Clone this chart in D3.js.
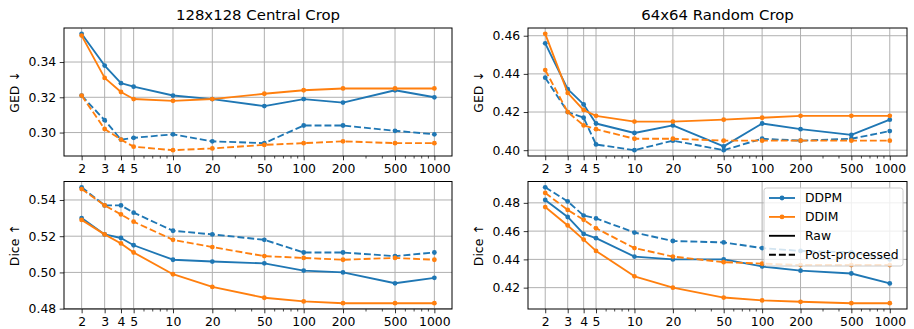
<!DOCTYPE html>
<html>
<head>
<meta charset="utf-8">
<script src="https://cdn.jsdelivr.net/npm/d3@7"></script>
<style>
  body { margin: 0; background: #fff; }
  svg { display: block; font-family: "DejaVu Sans", sans-serif; }
</style>
</head>
<body>
<svg id="chart"></svg>
<script>
// Sampling steps on the log x axis
const steps = [2, 3, 4, 5, 10, 20, 50, 100, 200, 500, 1000];
const minorSteps = [6, 7, 8, 9, 30, 40, 60, 70, 80, 90, 300, 400, 600, 700, 800, 900];

// 128x128 central crop
const gedCentralDdpmRaw  = [0.356, 0.338, 0.328, 0.326, 0.321, 0.319, 0.315, 0.319, 0.317, 0.324, 0.320];
const gedCentralDdimRaw  = [0.355, 0.331, 0.323, 0.319, 0.318, 0.319, 0.322, 0.324, 0.325, 0.325, 0.325];
const gedCentralDdpmPost = [0.321, 0.307, 0.296, 0.297, 0.299, 0.295, 0.294, 0.304, 0.304, 0.301, 0.299];
const gedCentralDdimPost = [0.321, 0.302, 0.296, 0.292, 0.290, 0.291, 0.293, 0.294, 0.295, 0.294, 0.294];
const diceCentralDdpmRaw  = [0.530, 0.521, 0.519, 0.515, 0.507, 0.506, 0.505, 0.501, 0.500, 0.494, 0.497];
const diceCentralDdimRaw  = [0.529, 0.521, 0.516, 0.511, 0.499, 0.492, 0.486, 0.484, 0.483, 0.483, 0.483];
const diceCentralDdpmPost = [0.547, 0.537, 0.537, 0.533, 0.523, 0.521, 0.518, 0.511, 0.511, 0.509, 0.511];
const diceCentralDdimPost = [0.546, 0.537, 0.532, 0.528, 0.518, 0.514, 0.509, 0.508, 0.507, 0.508, 0.507];

// 64x64 random crop
const gedRandomDdpmRaw  = [0.456, 0.432, 0.424, 0.414, 0.409, 0.413, 0.402, 0.414, 0.411, 0.408, 0.416];
const gedRandomDdimRaw  = [0.461, 0.430, 0.421, 0.418, 0.415, 0.415, 0.416, 0.417, 0.418, 0.418, 0.418];
const gedRandomDdpmPost = [0.438, 0.420, 0.417, 0.403, 0.400, 0.405, 0.400, 0.406, 0.405, 0.406, 0.410];
const gedRandomDdimPost = [0.442, 0.420, 0.413, 0.411, 0.406, 0.406, 0.405, 0.405, 0.405, 0.405, 0.405];
const diceRandomDdpmRaw  = [0.482, 0.470, 0.458, 0.455, 0.442, 0.440, 0.440, 0.435, 0.432, 0.430, 0.423];
const diceRandomDdimRaw  = [0.477, 0.464, 0.454, 0.446, 0.428, 0.420, 0.413, 0.411, 0.410, 0.409, 0.409];
const diceRandomDdpmPost = [0.491, 0.481, 0.471, 0.469, 0.459, 0.453, 0.452, 0.448, 0.446, 0.445, 0.440];
const diceRandomDdimPost = [0.487, 0.475, 0.468, 0.462, 0.448, 0.442, 0.438, 0.437, 0.436, 0.436, 0.436];

const titles = ["128x128 Central Crop", "64x64 Random Crop"];
const yLabels = ["GED \u2193", "Dice \u2191"];
const yTicksList = [
  [0.30, 0.32, 0.34],
  [0.40, 0.42, 0.44, 0.46],
  [0.48, 0.50, 0.52, 0.54],
  [0.42, 0.44, 0.46, 0.48]
];
const legendLabels = ["DDPM", "DDIM", "Raw", "Post-processed"];

const width = 914, height = 329;
const blue = "#1f77b4", orange = "#ff7f0e";
const dash = "6.9 3";
const tickFont = 12.4;

const svg = d3.select("#chart").attr("width", width).attr("height", height);

// panel boxes
const cols = [{ left: 64, right: 452 }, { left: 528, right: 907 }];
const rows = [{ top: 28, bottom: 156 }, { top: 181.5, bottom: 309 }];

const panels = [
  { row: 0, col: 0, series: [gedCentralDdpmRaw, gedCentralDdpmPost, gedCentralDdimRaw, gedCentralDdimPost] },
  { row: 0, col: 1, series: [gedRandomDdpmRaw, gedRandomDdpmPost, gedRandomDdimRaw, gedRandomDdimPost] },
  { row: 1, col: 0, series: [diceCentralDdpmRaw, diceCentralDdpmPost, diceCentralDdimRaw, diceCentralDdimPost] },
  { row: 1, col: 1, series: [diceRandomDdpmRaw, diceRandomDdpmPost, diceRandomDdimRaw, diceRandomDdimPost] }
];
const styles = [
  { color: blue, dash: null },
  { color: blue, dash: dash },
  { color: orange, dash: null },
  { color: orange, dash: dash }
];

// log x domain with 5% margins like matplotlib
const lx0 = Math.log10(steps[0]), lx1 = Math.log10(steps[steps.length - 1]);
const mx = (lx1 - lx0) * 0.05;
const xDomain = [Math.pow(10, lx0 - mx), Math.pow(10, lx1 + mx)];

panels.forEach((p, pi) => {
  const c = cols[p.col], r = rows[p.row];
  const g = svg.append("g");

  const x = d3.scaleLog().domain(xDomain).range([c.left, c.right]);
  const all = p.series.flat();
  const lo = d3.min(all), hi = d3.max(all), pad = (hi - lo) * 0.05;
  const y = d3.scaleLinear().domain([lo - pad, hi + pad]).range([r.bottom, r.top]);

  // grid
  g.selectAll(".gx").data(steps).enter().append("line")
    .attr("x1", d => x(d)).attr("x2", d => x(d))
    .attr("y1", r.top).attr("y2", r.bottom)
    .attr("stroke", "#b0b0b0").attr("stroke-width", 1);
  g.selectAll(".gy").data(yTicksList[pi]).enter().append("line")
    .attr("x1", c.left).attr("x2", c.right)
    .attr("y1", d => y(d)).attr("y2", d => y(d))
    .attr("stroke", "#b0b0b0").attr("stroke-width", 1);

  // series
  const line = d3.line().x((d, i) => x(steps[i])).y(d => y(d));
  p.series.forEach((vals, si) => {
    const st = styles[si];
    g.append("path").datum(vals)
      .attr("d", line)
      .attr("fill", "none")
      .attr("stroke", st.color)
      .attr("stroke-width", 1.86)
      .attr("stroke-linejoin", "round")
      .attr("stroke-dasharray", st.dash);
    g.selectAll(null).data(vals).enter().append("circle")
      .attr("cx", (d, i) => x(steps[i]))
      .attr("cy", d => y(d))
      .attr("r", 2.4)
      .attr("fill", st.color);
  });

  // frame
  g.append("rect")
    .attr("x", c.left).attr("y", r.top)
    .attr("width", c.right - c.left).attr("height", r.bottom - r.top)
    .attr("fill", "none").attr("stroke", "#000").attr("stroke-width", 1);

  // x axis ticks
  const xAxis = g.append("g").attr("transform", `translate(0,${r.bottom})`)
    .call(d3.axisBottom(x).tickValues(steps).tickFormat(d3.format("d"))
      .tickSizeInner(4.3).tickSizeOuter(0).tickPadding(3.5));
  xAxis.select(".domain").remove();
  xAxis.selectAll("text").attr("font-size", tickFont).attr("font-family", "DejaVu Sans").attr("fill", "#000");
  xAxis.selectAll("line").attr("stroke", "#000").attr("stroke-width", 0.8);
  g.selectAll(".mt").data(minorSteps).enter().append("line")
    .attr("x1", d => x(d)).attr("x2", d => x(d))
    .attr("y1", r.bottom).attr("y2", r.bottom + 2.5)
    .attr("stroke", "#000").attr("stroke-width", 0.7);

  // y axis ticks
  const yAxis = g.append("g").attr("transform", `translate(${c.left},0)`)
    .call(d3.axisLeft(y).tickValues(yTicksList[pi]).tickFormat(d3.format(".2f"))
      .tickSizeInner(4.3).tickSizeOuter(0).tickPadding(3.5));
  yAxis.select(".domain").remove();
  yAxis.selectAll("text").attr("font-size", tickFont).attr("font-family", "DejaVu Sans").attr("fill", "#000");
  yAxis.selectAll("line").attr("stroke", "#000").attr("stroke-width", 0.8);

  // y label
  const ly = (r.top + r.bottom) / 2;
  const lxPos = c.left - 49;
  g.append("text")
    .attr("transform", `translate(${lxPos},${ly}) rotate(-90)`)
    .attr("text-anchor", "middle")
    .attr("dy", "0.35em")
    .attr("font-size", tickFont)
    .text(yLabels[p.row]);

  // title
  if (p.row === 0) {
    g.append("text")
      .attr("x", (c.left + c.right) / 2).attr("y", 20)
      .attr("text-anchor", "middle")
      .attr("font-size", 14.9)
      .text(titles[p.col]);
  }

  // legend in the bottom-right panel
  if (pi === 3) {
    const lg = g.append("g");
    const box = { right: c.right - 4, top: r.top + 6.5, w: 139, h: 78 };
    lg.append("rect")
      .attr("x", box.right - box.w).attr("y", box.top)
      .attr("width", box.w).attr("height", box.h)
      .attr("rx", 2.5)
      .attr("fill", "#fff").attr("fill-opacity", 0.8)
      .attr("stroke", "#cccccc").attr("stroke-width", 1);
    const items = [
      { color: blue, dash: null, marker: true },
      { color: orange, dash: null, marker: true },
      { color: "#000", dash: null, marker: false },
      { color: "#000", dash: dash, marker: false }
    ];
    const hx0 = box.right - box.w + 5, hx1 = hx0 + 26;
    items.forEach((it, i) => {
      const cy = box.top + 10 + i * 18.9;
      lg.append("line")
        .attr("x1", hx0).attr("x2", hx1).attr("y1", cy).attr("y2", cy)
        .attr("stroke", it.color).attr("stroke-width", 1.86)
        .attr("stroke-dasharray", it.dash);
      if (it.marker) {
        lg.append("circle").attr("cx", (hx0 + hx1) / 2).attr("cy", cy).attr("r", 2.4).attr("fill", it.color);
      }
      lg.append("text")
        .attr("x", hx1 + 10).attr("y", cy)
        .attr("dy", "0.35em")
        .attr("font-size", tickFont)
        .text(legendLabels[i]);
    });
  }
});
</script>
</body>
</html>
